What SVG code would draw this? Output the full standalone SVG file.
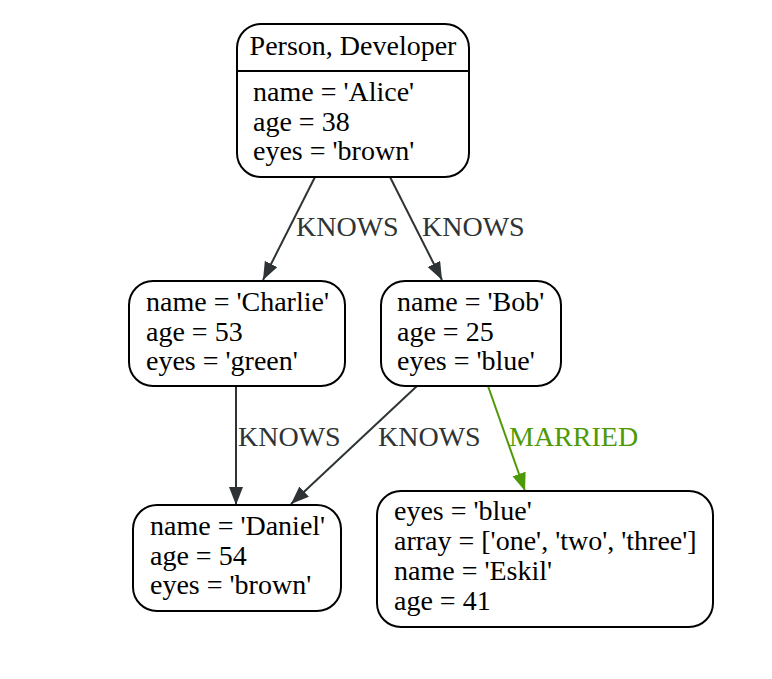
<svg xmlns="http://www.w3.org/2000/svg" width="772" height="679" viewBox="0 0 772 679">
<style>
.node rect{fill:#fff;stroke:#000;stroke-width:2}
.node line{stroke:#000;stroke-width:2}
text{font-family:"Liberation Serif","Times New Roman",serif;font-size:28px;fill:#000}
.edge line{stroke:#2e3436;stroke-width:2;fill:none}
.edge text{fill:#2e3436}
.edge.green line{stroke:#4e9a06}
.edge.green text{fill:#4e9a06}
</style>
<defs>
<marker id="ah" markerUnits="userSpaceOnUse" markerWidth="20" markerHeight="16" refX="18" refY="7" orient="auto" viewBox="0 0 20 16">
<path d="M0,0 L18,7 L0,14 Z" fill="#2e3436"/>
</marker>
<marker id="ahg" markerUnits="userSpaceOnUse" markerWidth="20" markerHeight="16" refX="18" refY="7" orient="auto" viewBox="0 0 20 16">
<path d="M0,0 L18,7 L0,14 Z" fill="#4e9a06"/>
</marker>
</defs>
<rect width="772" height="679" fill="#fff"/>
<g id="edges">
<g class="edge" id="e1"><line x1="315" y1="177" x2="263" y2="280" marker-end="url(#ah)"/><text x="296" y="236">KNOWS</text></g>
<g class="edge" id="e2"><line x1="390" y1="177" x2="442" y2="280" marker-end="url(#ah)"/><text x="422" y="236">KNOWS</text></g>
<g class="edge" id="e3"><line x1="236" y1="386" x2="236" y2="505" marker-end="url(#ah)"/><text x="238" y="446">KNOWS</text></g>
<g class="edge" id="e4"><line x1="417" y1="386" x2="291" y2="504" marker-end="url(#ah)"/><text x="378" y="446">KNOWS</text></g>
<g class="edge green" id="e5"><line x1="488" y1="386" x2="525" y2="491" marker-end="url(#ahg)"/><text x="509" y="446">MARRIED</text></g>
</g>
<g class="node" id="alice">
<rect x="237" y="24" width="232" height="153" rx="24"/>
<line x1="237" y1="71" x2="469" y2="71"/>
<text x="353" y="55" text-anchor="middle">Person, Developer</text>
<text x="253" y="101">name = 'Alice'</text>
<text x="253" y="131">age = 38</text>
<text x="253" y="160">eyes = 'brown'</text>
</g>
<g class="node" id="charlie">
<rect x="129" y="281" width="216" height="105" rx="24"/>
<text x="146" y="311">name = 'Charlie'</text>
<text x="146" y="341">age = 53</text>
<text x="146" y="370">eyes = 'green'</text>
</g>
<g class="node" id="bob">
<rect x="381" y="281" width="180" height="105" rx="24"/>
<text x="397" y="311">name = 'Bob'</text>
<text x="397" y="341">age = 25</text>
<text x="397" y="370">eyes = 'blue'</text>
</g>
<g class="node" id="daniel">
<rect x="133" y="505" width="208" height="106" rx="24"/>
<text x="150" y="535">name = 'Daniel'</text>
<text x="150" y="565">age = 54</text>
<text x="150" y="594">eyes = 'brown'</text>
</g>
<g class="node" id="eskil">
<rect x="377" y="491" width="336" height="136" rx="24"/>
<text x="394" y="520">eyes = 'blue'</text>
<text x="394" y="550">array = ['one', 'two', 'three']</text>
<text x="394" y="580">name = 'Eskil'</text>
<text x="394" y="610">age = 41</text>
</g>
</svg>
